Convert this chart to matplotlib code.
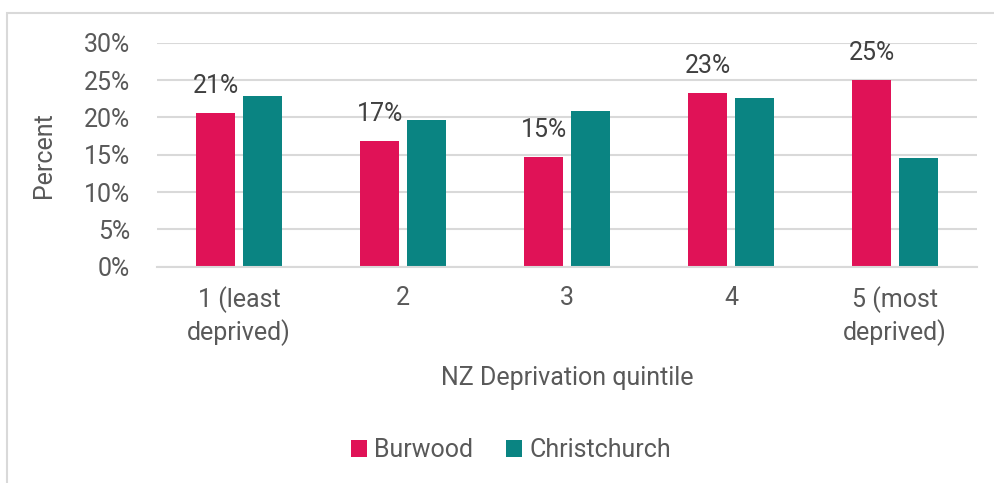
import matplotlib.pyplot as plt
import matplotlib.patches as mpatches
import numpy as np

categories = ["1 (least\ndeprived)", "2", "3", "4", "5 (most\ndeprived)"]
burwood = [20.6, 16.8, 14.65, 23.2, 25.0]
christchurch = [22.8, 19.6, 20.9, 22.6, 14.5]
burwood_labels = ["21%", "17%", "15%", "23%", "25%"]

plt.rcParams['font.family'] = ['Roboto', 'DejaVu Sans']
text_col = "#595959"
grid_col = "#d9d9d9"
fs = 18

fig = plt.figure(figsize=(9.95, 4.83), dpi=100)
ax = fig.add_axes([157 / 995, 1 - 266.7 / 483, 820 / 995, (266.7 - 42.7) / 483])

# light frame around the chart area
fig.patches.append(mpatches.Rectangle((7 / 995, -0.1), 1.1, 1 - 13 / 483 + 0.1,
                                      transform=fig.transFigure, fill=False,
                                      edgecolor=grid_col, linewidth=1.5))

x = np.arange(len(categories))
w = 0.238
off = 0.1425
b1 = ax.bar(x - off, burwood, w, color="#E01257", label="Burwood")
b2 = ax.bar(x + off, christchurch, w, color="#0A8482", label="Christchurch")

for xi, v, lab in zip(x, burwood, burwood_labels):
    ax.annotate(lab, (xi - off, v), xytext=(0, 14.5), textcoords="offset points",
                ha="center", va="baseline", fontsize=fs, color="#404040")

ax.set_xlim(-0.5, len(categories) - 0.5)
ax.set_ylim(0, 30)
ax.set_yticks(range(0, 31, 5))
ax.set_yticklabels([f"{t}%" for t in range(0, 31, 5)])
ax.set_xticks(x)
ax.set_xticklabels(categories, linespacing=1.3)
ax.tick_params(length=0, labelsize=fs, colors=text_col)
ax.tick_params(axis="x", pad=14)
ax.tick_params(axis="y", pad=19.5)
ax.yaxis.grid(True, color=grid_col, linewidth=1.5)
ax.set_axisbelow(True)
for s in ["top", "right", "left"]:
    ax.spines[s].set_visible(False)
ax.spines["bottom"].set_color(grid_col)
ax.spines["bottom"].set_linewidth(1.5)

ax.set_ylabel("Percent", fontsize=fs, color=text_col, labelpad=20)
ax.set_xlabel("NZ Deprivation quintile", fontsize=fs, color=text_col, labelpad=14)

fig.legend(handles=[b1, b2], loc="center", bbox_to_anchor=(511 / 995, 1 - 450 / 483),
           ncol=2, frameon=False, fontsize=fs, labelcolor=text_col,
           handlelength=0.65, handleheight=0.65, handletextpad=0.3, columnspacing=1.3)

fig.savefig("out.png", dpi=100)
